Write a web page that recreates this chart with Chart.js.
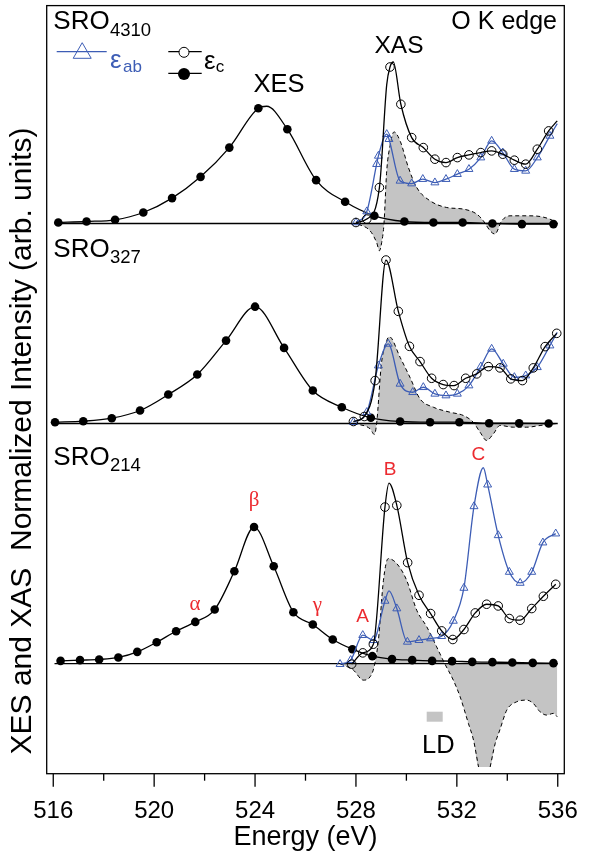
<!DOCTYPE html>
<html><head><meta charset="utf-8">
<script src="https://cdn.jsdelivr.net/npm/chart.js@4.4.1/dist/chart.umd.min.js"></script>
<style>html,body{margin:0;padding:0;background:#fff;}canvas{display:block;}</style>
</head><body>
<canvas id="c" width="597" height="858"></canvas>
<script>
// ---------- axis ----------
const energyTicks = [516,518,520,522,524,526,528,530,532,534,536];
const energyTickLabels = ['516','','520','','524','','528','','532','','536'];
const xTitle = 'Energy (eV)';
const yTitle = 'XES and XAS  Normalized Intensity (arb. units)';
const panelNames = ['SRO','SRO','SRO'];
const panelSubs = ['4310','327','214'];
const panelOffsets = [5.51, 3.507, 1.102];

// ---------- SRO4310 ----------
const xes4310E = [516.20,517.32,518.45,519.57,520.71,521.84,522.98,524.13,525.28,526.42,527.57,528.73,529.92,531.07,532.23,533.41,534.58,535.83];
const xes4310I = [0.01,0.02,0.037,0.11,0.254,0.467,0.76,1.154,0.944,0.434,0.217,0.077,0.02,0.01,0.01,0.0,-0.006,-0.006];
const xes4310CurveE = [524.46];
const xes4310CurveI = [1.174];
const xasC4310E = [528.00,528.43,528.93,529.35,529.78,530.21,530.67,531.13,531.57,532.02,532.48,532.95,533.38,533.82,534.28,534.73,535.19,535.64];
const xasC4310I = [0.01,0.044,0.36,1.567,1.194,0.86,0.76,0.644,0.61,0.66,0.687,0.71,0.727,0.694,0.634,0.594,0.744,0.927];
const xasC4310CurveE = [529.22,529.48,535.98];
const xasC4310CurveI = [1.39,1.617,1.027];
const xasAB4310E = [528.00,528.43,528.82,528.89,529.22,529.31,529.75,530.21,530.65,531.13,531.57,532.02,532.48,532.95,533.38,533.82,534.28,534.73,535.19,535.69];
const xasAB4310I = [0.01,0.12,0.594,0.677,0.894,0.844,0.427,0.40,0.444,0.41,0.444,0.494,0.544,0.66,0.827,0.71,0.544,0.527,0.66,0.877];
const xasAB4310CurveE = [535.98];
const xasAB4310CurveI = [1.0];
const ld4310E = [528.09,528.56,528.82,528.93,529.02,529.11,529.22,529.35,529.51,529.75,530.08,530.41,530.94,531.60,532.26,532.79,533.05,533.32,533.51,533.78,534.11,534.77,535.37,535.83,535.98];
const ld4310I = [-0.006,-0.073,-0.19,-0.273,-0.19,-0.006,0.527,0.777,0.917,0.827,0.56,0.36,0.227,0.16,0.144,0.094,0.027,-0.073,-0.106,0.027,0.077,0.077,0.067,0.027,0.0];

// ---------- SRO327 ----------
const xes327E = [516.07,517.19,518.32,519.44,520.56,521.71,522.85,524.00,525.15,526.29,527.44,528.59,529.75,530.94,532.10,533.28,534.47,535.64];
const xes327I = [0.013,0.023,0.053,0.13,0.29,0.49,0.83,1.17,0.757,0.33,0.163,0.057,0.02,0.013,0.013,0.003,0.003,0.0];
const xes327CurveE = [];
const xes327CurveI = [];
const xasC327E = [527.90,528.33,528.76,529.19,529.68,530.12,530.54,531.00,531.46,531.89,532.35,532.79,533.25,533.71,534.14,534.60,535.03,535.50,535.96];
const xasC327I = [0.02,0.07,0.43,1.637,1.123,0.773,0.62,0.453,0.39,0.38,0.453,0.497,0.57,0.557,0.447,0.43,0.557,0.77,0.903];
const xasC327CurveE = [];
const xasC327CurveI = [];
const xasAB327E = [527.90,528.43,528.89,529.28,529.75,530.25,530.67,531.13,531.57,532.02,532.48,532.95,533.38,533.84,534.28,534.73,535.19,535.69];
const xasAB327I = [0.013,0.113,0.58,0.797,0.397,0.313,0.363,0.297,0.28,0.297,0.38,0.57,0.747,0.597,0.463,0.48,0.563,0.78];
const xasAB327CurveE = [535.98];
const xasAB327CurveI = [0.913];
const ld327E = [527.90,528.56,528.73,528.82,529.01,529.22,529.32,529.75,530.14,530.54,531.07,531.73,532.26,532.65,532.92,533.18,533.45,533.71,534.24,534.77,535.30,535.96];
const ld327I = [0.0,-0.053,-0.11,0.0,0.6,0.83,0.87,0.663,0.463,0.247,0.163,0.113,0.08,0.013,-0.087,-0.17,-0.103,-0.02,-0.037,-0.037,-0.02,0.0];

// ---------- SRO214 ----------
const xes214E = [516.29,517.06,517.82,518.58,519.33,520.10,520.87,521.63,522.40,523.18,523.96,524.74,525.52,526.29,527.08,527.86,528.65,529.43,530.23,531.02,531.81,532.61,533.41,534.20,535.01,535.83];
const xes214I = [0.028,0.035,0.042,0.062,0.118,0.215,0.325,0.418,0.542,0.925,1.368,0.975,0.515,0.392,0.242,0.145,0.075,0.045,0.035,0.028,0.025,0.018,0.015,0.012,0.008,0.005];
const xes214CurveE = [];
const xes214CurveI = [];
const xasC214E = [527.83,528.27,528.69,529.15,529.62,530.05,530.50,530.96,531.40,531.84,532.28,532.73,533.18,533.64,534.08,534.51,534.97,535.43,535.92];
const xasC214I = [-0.005,0.108,0.195,1.568,1.585,1.012,0.685,0.502,0.328,0.242,0.342,0.508,0.595,0.578,0.452,0.435,0.552,0.675,0.795];
const xasC214CurveE = [529.31];
const xasC214CurveI = [1.808];
const xasAB214E = [527.37,527.79,528.27,528.69,529.15,529.62,530.04,530.50,530.96,531.40,531.86,532.28,532.68,533.22,533.64,534.08,534.51,534.97,535.41,535.92];
const xasAB214I = [-0.005,0.035,0.285,0.235,0.628,0.552,0.218,0.235,0.252,0.275,0.428,0.758,1.575,1.792,1.285,0.918,0.808,0.918,1.212,1.302];
const xasAB214CurveE = [529.31,533.05];
const xasAB214CurveI = [0.728,1.962];
const ld214E = [527.37,527.90,528.29,528.56,528.72,528.89,529.09,529.28,529.62,530.01,530.41,530.81,531.20,531.53,531.86,532.13,532.46,532.66,532.86,533.00,533.15,533.32,533.52,533.71,533.98,534.37,534.77,535.03,535.30,535.56,535.83,535.98];
const ld214I = [0.0,-0.065,-0.165,-0.132,-0.032,0.235,0.835,1.052,1.002,0.835,0.535,0.368,0.168,-0.005,-0.165,-0.332,-0.60,-0.765,-1.035,-1.035,-1.035,-1.035,-0.80,-0.66,-0.465,-0.382,-0.365,-0.398,-0.482,-0.515,-0.498,-0.532];

const baselineE = [516.05, 536.0];

// ---------- style ----------
const FONT = '"Liberation Sans", Arial, Helvetica, sans-serif';
const SERIF = '"Liberation Serif", "DejaVu Serif", serif';
const BLUE = '#3d5db5';
const RED = '#ec2a2f';
const GRAY = '#c4c4c4';
const LD_FLOOR = -1.035;

function pts(E, I, off) { return E.map((e, i) => ({x: e, y: off + I[i]})); }
function curve(E, I, cE, cI, off) {
  const a = E.map((e, i) => [e, I[i]]).concat(cE.map((e, i) => [e, cI[i]]));
  a.sort((p, q) => p[0] - q[0]);
  return a.map(p => ({x: p[0], y: off + p[1]}));
}
// dashed outline: skip the flat stretch where the LD trace is cut by the frame
function outline(E, I, off) {
  return E.map((e, i) => {
    const flat = I[i] <= LD_FLOOR && i > 0 && i < E.length - 1 && I[i - 1] <= LD_FLOOR && I[i + 1] <= LD_FLOOR;
    return {x: e, y: flat ? null : off + I[i]};
  });
}

const panels = [
  {xesE: xes4310E, xesI: xes4310I, xesCE: xes4310CurveE, xesCI: xes4310CurveI,
   cE: xasC4310E, cI: xasC4310I, cCE: xasC4310CurveE, cCI: xasC4310CurveI,
   abE: xasAB4310E, abI: xasAB4310I, abCE: xasAB4310CurveE, abCI: xasAB4310CurveI,
   ldE: ld4310E, ldI: ld4310I},
  {xesE: xes327E, xesI: xes327I, xesCE: xes327CurveE, xesCI: xes327CurveI,
   cE: xasC327E, cI: xasC327I, cCE: xasC327CurveE, cCI: xasC327CurveI,
   abE: xasAB327E, abI: xasAB327I, abCE: xasAB327CurveE, abCI: xasAB327CurveI,
   ldE: ld327E, ldI: ld327I},
  {xesE: xes214E, xesI: xes214I, xesCE: xes214CurveE, xesCI: xes214CurveI,
   cE: xasC214E, cI: xasC214I, cCE: xasC214CurveE, cCI: xasC214CurveI,
   abE: xasAB214E, abI: xasAB214I, abCE: xasAB214CurveE, abCI: xasAB214CurveI,
   ldE: ld214E, ldI: ld214I}
];

const datasets = [];
panels.forEach((p, k) => {
  const off = panelOffsets[k];
  datasets.push({label: 'LD fill', data: pts(p.ldE, p.ldI, off), borderWidth: 0, borderColor: 'rgba(0,0,0,0)',
    backgroundColor: GRAY, fill: {value: off}, pointRadius: 0, cubicInterpolationMode: 'monotone', order: 11});
  datasets.push({label: 'LD', data: outline(p.ldE, p.ldI, off), borderColor: '#000', borderWidth: 1,
    borderDash: [4, 3], fill: false, pointRadius: 0, spanGaps: false,
    cubicInterpolationMode: 'monotone', order: 10});
  datasets.push({label: 'base', data: baselineE.map(e => ({x: e, y: off})), borderColor: '#000', borderWidth: 1.4,
    pointRadius: 0, fill: false, order: 8});
  datasets.push({label: 'XES', data: curve(p.xesE, p.xesI, p.xesCE, p.xesCI, off), borderColor: '#000', borderWidth: 1.3,
    pointRadius: 0, fill: false, cubicInterpolationMode: 'monotone', order: 7});
  datasets.push({label: 'XES pts', data: pts(p.xesE, p.xesI, off), showLine: false, pointRadius: 4.3,
    pointBackgroundColor: '#000', pointBorderColor: '#000', pointBorderWidth: 0, order: 6});
  datasets.push({label: 'eab', data: curve(p.abE, p.abI, p.abCE, p.abCI, off), borderColor: BLUE, borderWidth: 1.3,
    pointRadius: 0, fill: false, cubicInterpolationMode: 'monotone', order: 5});
  datasets.push({label: 'eab pts', data: pts(p.abE, p.abI, off), showLine: false, pointStyle: 'triangle', pointRadius: 4.6,
    pointBackgroundColor: 'rgba(0,0,0,0)', pointBorderColor: BLUE, pointBorderWidth: 1, order: 4});
  datasets.push({label: 'ec', data: curve(p.cE, p.cI, p.cCE, p.cCI, off), borderColor: '#000', borderWidth: 1.3,
    pointRadius: 0, fill: false, cubicInterpolationMode: 'monotone', order: 3});
  datasets.push({label: 'ec pts', data: pts(p.cE, p.cI, off), showLine: false, pointStyle: 'circle', pointRadius: 4.3,
    pointBackgroundColor: 'rgba(0,0,0,0)', pointBorderColor: '#000', pointBorderWidth: 1, order: 2});
});

function txt(ctx, s, x, y, size, color, align, family) {
  ctx.font = size + 'px ' + (family || FONT);
  ctx.fillStyle = color || '#000';
  ctx.textAlign = align || 'left';
  ctx.textBaseline = 'alphabetic';
  ctx.fillText(s, x, y);
}

const annot = {
  id: 'annot',
  afterDraw(chart) {
    const ctx = chart.ctx, a = chart.chartArea, xs = chart.scales.x;
    ctx.save();
    ctx.strokeStyle = '#000'; ctx.lineWidth = 1.3; ctx.setLineDash([]);
    ctx.strokeRect(a.left, a.top, a.right - a.left, a.bottom - a.top);
    energyTicks.forEach((v, i) => {
      const x = xs.getPixelForValue(v);
      const len = energyTickLabels[i] ? 13 : 7;
      ctx.beginPath(); ctx.moveTo(x, a.bottom); ctx.lineTo(x, a.bottom + len); ctx.stroke();
    });
    // y title
    ctx.save();
    ctx.translate(31, 441); ctx.rotate(-Math.PI / 2);
    txt(ctx, yTitle, 0, 0, 30, '#000', 'center');
    ctx.restore();
    // panel names
    const nameY = [29.3, 256.7, 465];
    panelNames.forEach((n, k) => {
      txt(ctx, n, 53.3, nameY[k], 26);
      txt(ctx, panelSubs[k], 110, nameY[k] + 6.3, 18.5);
    });
    txt(ctx, 'O K edge', 557, 29.3, 25, '#000', 'right');
    txt(ctx, 'XAS', 399, 53.3, 24.5, '#000', 'center');
    txt(ctx, 'XES', 279, 91.7, 25.5, '#000', 'center');
    // legend
    ctx.lineWidth = 1.3;
    ctx.strokeStyle = BLUE;
    ctx.beginPath(); ctx.moveTo(56.7, 51.7); ctx.lineTo(106.7, 51.7); ctx.stroke();
    const r = 10.4, cx = 82.2, cy = 53.1;
    ctx.lineWidth = 1;
    ctx.beginPath();
    ctx.moveTo(cx, cy - r);
    ctx.lineTo(cx + r * Math.sin(2 * Math.PI / 3), cy - r * Math.cos(2 * Math.PI / 3));
    ctx.lineTo(cx + r * Math.sin(4 * Math.PI / 3), cy - r * Math.cos(4 * Math.PI / 3));
    ctx.closePath(); ctx.stroke();
    txt(ctx, 'ε', 110, 67.5, 26, BLUE);
    txt(ctx, 'ab', 123, 71.7, 17, BLUE);
    ctx.strokeStyle = '#000';
    ctx.lineWidth = 1.3;
    ctx.beginPath(); ctx.moveTo(168.3, 51.7); ctx.lineTo(201.7, 51.7); ctx.stroke();
    ctx.beginPath(); ctx.arc(184, 52.3, 5, 0, Math.PI * 2); ctx.fillStyle = '#fff'; ctx.fill(); ctx.lineWidth = 1; ctx.stroke();
    ctx.lineWidth = 1.3;
    ctx.beginPath(); ctx.moveTo(168.3, 73.3); ctx.lineTo(201.7, 73.3); ctx.stroke();
    ctx.beginPath(); ctx.arc(184, 74, 6, 0, Math.PI * 2); ctx.fillStyle = '#000'; ctx.fill();
    txt(ctx, 'ε', 204, 68.5, 26);
    txt(ctx, 'c', 215.7, 71.7, 17);
    // red feature labels
    txt(ctx, 'α', 195, 610, 21, RED, 'center', SERIF);
    txt(ctx, 'β', 254, 506, 21, RED, 'center', SERIF);
    txt(ctx, 'γ', 317.5, 611, 21, RED, 'center', SERIF);
    txt(ctx, 'A', 362.5, 621.7, 19, RED, 'center');
    txt(ctx, 'B', 390, 475, 19, RED, 'center');
    txt(ctx, 'C', 478.3, 460, 19, RED, 'center');
    // LD legend
    ctx.fillStyle = GRAY; ctx.fillRect(426.7, 711.7, 16, 10);
    txt(ctx, 'LD', 438.3, 753.3, 25.5, '#000', 'center');
    ctx.restore();
  }
};

new Chart(document.getElementById('c'), {
  type: 'line',
  data: {datasets},
  options: {
    responsive: false, animation: false, devicePixelRatio: 1,
    layout: {padding: {top: 4.5, right: 32.7, left: 46.7, bottom: 0}},
    plugins: {legend: {display: false}, tooltip: {enabled: false}},
    scales: {
      x: {type: 'linear', position: 'bottom', min: 515.74, max: 536.26,
        afterBuildTicks: s => { s.ticks = energyTicks.map(v => ({value: v})); },
        afterFit: s => { s.height = 84.3; },
        ticks: {autoSkip: false, maxRotation: 0, padding: 10, color: '#000',
          font: {size: 24, family: FONT},
          callback: v => energyTickLabels[energyTicks.indexOf(v)] || ''},
        grid: {display: true, drawOnChartArea: false, drawTicks: true, tickLength: 13, color: 'rgba(0,0,0,0)'},
        border: {display: false},
        title: {display: true, text: xTitle, color: '#000', font: {size: 27, family: FONT}, padding: {top: 0, bottom: 4}}
      },
      y: {type: 'linear', display: false, min: 0, max: 7.692}
    }
  },
  plugins: [annot]
});
</script>
</body></html>
